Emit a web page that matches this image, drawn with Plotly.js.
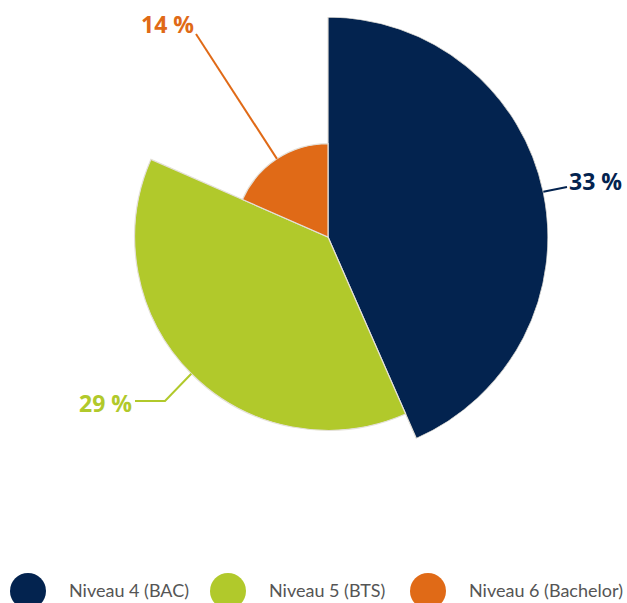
<!DOCTYPE html>
<html><head><meta charset="utf-8">
<script src="https://cdn.plot.ly/plotly-3.0.1.min.js"></script>
<style>html,body{margin:0;padding:0;background:#fff}#chart{width:627px;height:603px}</style>
</head><body><div id="chart"></div>
<script>
const categories = ["Niveau 4 (BAC)", "Niveau 5 (BTS)", "Niveau 6 (Bachelor)"];
const values = [33, 29, 14];
const valueLabels = ["33 %", "29 %", "14 %"];
const colors = ["#03234f", "#b1c92b", "#e06a17"];

const W = 627, H = 603;
const CX = 328, CY = 237, R = 220;
const rMax = Math.max(...values);
const total = values.reduce((a, b) => a + b, 0);

// angles
let cum = 0;
const widths = [], centers = [];
values.forEach(v => {
  const w = v / total * 360;
  widths.push(w); centers.push(cum + w / 2); cum += w;
});

const trace = {
  type: 'barpolar',
  r: values,
  theta: centers,
  width: widths,
  marker: {color: colors, line: {color: '#e4e0d8', width: 1.2}},
  showlegend: false,
  hoverinfo: 'skip'
};

const px = x => x / W, py = y => 1 - y / H;
function arcPoint(i) {
  const rr = values[i] / rMax * R;
  const a = centers[i] * Math.PI / 180;
  return [CX + rr * Math.sin(a), CY - rr * Math.cos(a)];
}

// leader line end points (label placement offsets)
const leaders = [
  [[567, 187]],
  [[165, 401], [135, 401]],
  [[196, 34]]
];
const labelPos = [
  {x: 567, y: 181, xanchor: 'left'},
  {x: 134, y: 403, xanchor: 'right'},
  {x: 196, y: 24, xanchor: 'right'}
];

const shapes = [];
const annotations = [];
values.forEach((v, i) => {
  const pts = [arcPoint(i), ...leaders[i]];
  let path = 'M' + pts.map(p => px(p[0]) + ',' + py(p[1])).join(' L');
  shapes.push({type: 'path', xref: 'paper', yref: 'paper', path: path,
    line: {color: colors[i], width: 2}});
  annotations.push({xref: 'paper', yref: 'paper', x: px(labelPos[i].x), y: py(labelPos[i].y),
    xanchor: labelPos[i].xanchor, yanchor: 'middle', showarrow: false,
    text: '<b>' + valueLabels[i] + '</b>',
    font: {family: 'Open Sans, sans-serif', size: 23, color: colors[i]}});
});

// legend
const legX = [28, 228, 428];
const legY = 591, legR = 18;
categories.forEach((c, i) => {
  shapes.push({type: 'circle', xref: 'paper', yref: 'paper',
    x0: px(legX[i] - legR), x1: px(legX[i] + legR), y0: py(legY + legR), y1: py(legY - legR),
    fillcolor: colors[i], line: {width: 0}});
  annotations.push({xref: 'paper', yref: 'paper', x: px(legX[i] + 39), y: py(legY - 1),
    xanchor: 'left', yanchor: 'middle', showarrow: false, text: c,
    font: {family: 'Lato, sans-serif', size: 18, color: '#555555'}});
});

const layout = {
  width: W, height: H,
  margin: {l: 0, r: 0, t: 0, b: 0},
  paper_bgcolor: '#fff',
  showlegend: false,
  polar: {
    domain: {x: [px(CX - R), px(CX + R)], y: [py(CY + R), py(CY - R)]},
    bgcolor: 'rgba(0,0,0,0)',
    bargap: 0,
    radialaxis: {range: [0, rMax], visible: false, showgrid: false},
    angularaxis: {rotation: 90, direction: 'clockwise', visible: false, showgrid: false}
  },
  shapes: shapes,
  annotations: annotations
};

Plotly.newPlot('chart', [trace], layout, {displayModeBar: false});
</script></body></html>
